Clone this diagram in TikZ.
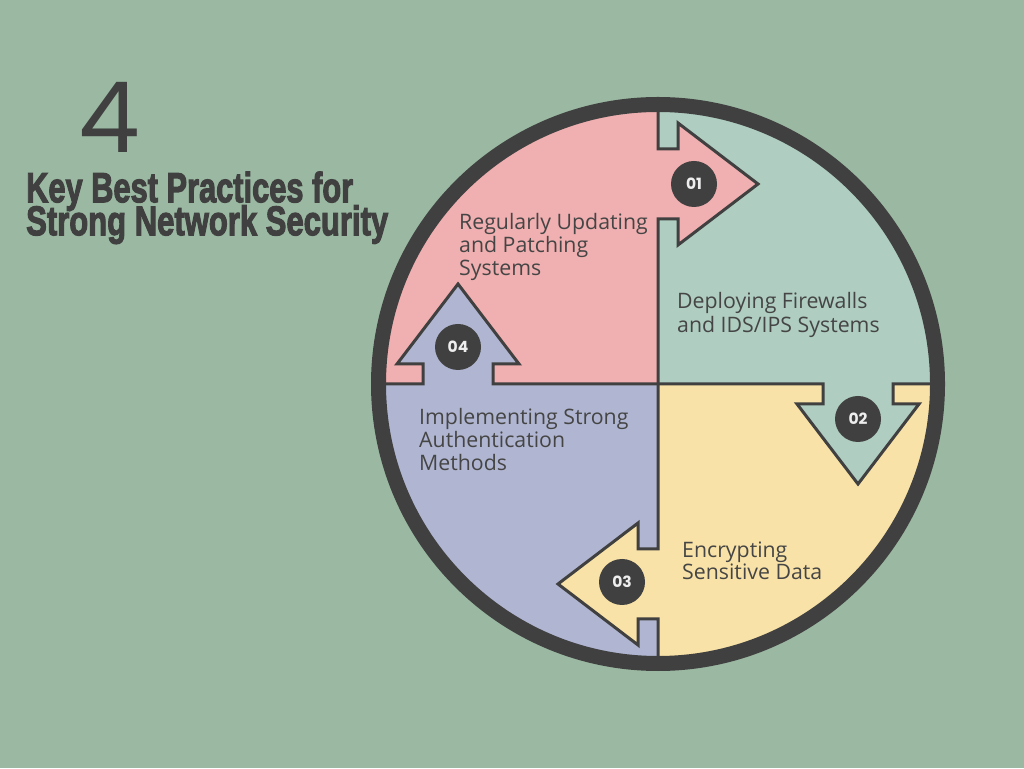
\documentclass[tikz,border=0pt]{standalone}
\usepackage{fontspec}
\usepackage{graphicx}
\setmainfont{Open Sans}
\newfontfamily\headfont{Liberation Sans}[BoldFeatures={FakeBold=3}]
\newfontfamily\numfont{Poppins}
\newfontfamily\bigfont{Poppins}
\definecolor{bgc}{HTML}{9BB9A2}
\definecolor{pinkc}{HTML}{F0AFB0}
\definecolor{mintc}{HTML}{AFCDC1}
\definecolor{yellc}{HTML}{F8E2A7}
\definecolor{lavc}{HTML}{B0B6D1}
\definecolor{darkc}{HTML}{404040}
\definecolor{textc}{HTML}{454545}
\definecolor{numc}{HTML}{EEEEEE}
\tikzset{
  txt/.style={anchor=base west, inner sep=0pt, text=textc, font=\fontsize{21.3}{23}\selectfont},
  outline/.style={draw=darkc, line width=3pt, line join=miter},
  numdisc/.style={circle, fill=darkc, minimum size=46pt, inner sep=0pt, text=numc, font=\numfont\bfseries\fontsize{15.5}{15.5}\selectfont},
}
\begin{document}
\begin{tikzpicture}[x=1pt,y=1pt]
\useasboundingbox (0,0) rectangle (1024,768);
\fill[bgc] (0,0) rectangle (1024,768);
\coordinate (C) at (658,384);
% quadrants
\fill[mintc] (C) -- ++(0:281) arc[start angle=0,end angle=90,radius=281] -- cycle;
\fill[pinkc] (C) -- ++(90:281) arc[start angle=90,end angle=180,radius=281] -- cycle;
\fill[lavc] (C) -- ++(180:281) arc[start angle=180,end angle=270,radius=281] -- cycle;
\fill[yellc] (C) -- ++(270:281) arc[start angle=270,end angle=360,radius=281] -- cycle;
% arrow fills
\foreach \r/\c in {0/pinkc,-90/mintc,-180/yellc,90/lavc}{
  \begin{scope}[shift={(C)}, rotate=\r]
    \fill[\c] (-2.5,165) -- (20,165) -- (20,139) -- (100,200) -- (20,261) -- (20,235) -- (-2.5,235) -- cycle;
  \end{scope}
}
% outlines and dividers
\foreach \r in {0,-90,-180,90}{
  \begin{scope}[shift={(C)}, rotate=\r]
    \draw[outline] (0,0) -- (0,165) -- (20,165) -- (20,139) -- (100,200) -- (20,261) -- (20,235) -- (0,235) -- (0,284);
  \end{scope}
}
% outer ring
\draw[darkc, line width=15pt] (C) circle[radius=279.5];
% number discs
\begin{scope}[shift={(C)}]
  \node[numdisc] (n1) at (36,200) {01};
  \node[numdisc] (n2) at (200,-35) {02};
  \node[numdisc] (n3) at (-36,-198) {03};
  \node[numdisc] (n4) at (-200,37) {04};
\end{scope}
% texts
\node[txt] (a1) at (459,538) {Regularly Updating};
\node[txt] (a2) at (459,515) {and Patching};
\node[txt] (a3) at (459,492) {Systems};
\node[txt] (b1) at (677,459) {Deploying Firewalls};
\node[txt] (b2) at (677,435) {and IDS/IPS Systems};
\node[txt] (c1) at (419,343) {Implementing Strong};
\node[txt] (c2) at (419,320) {Authentication};
\node[txt] (c3) at (419,297) {Methods};
\node[txt] (d1) at (682,210) {Encrypting};
\node[txt] (d2) at (682,188) {Sensitive Data};
% title
\node[anchor=base west, inner sep=0pt, text=darkc] (four) at (78,615) {\bigfont\fontsize{98}{98}\selectfont 4};
\node[anchor=north west, inner sep=0pt, text=darkc] (head) at (26,596.5)
  {\vbox{\baselineskip=33pt\lineskiplimit=-100pt\lineskip=0pt
   \hbox{\resizebox{327pt}{30.5pt}{\headfont\bfseries Key Best Practices for}}
   \hbox{\resizebox{362pt}{30pt}{\headfont\bfseries Strong Network Security}}}};
\end{tikzpicture}
\end{document}
